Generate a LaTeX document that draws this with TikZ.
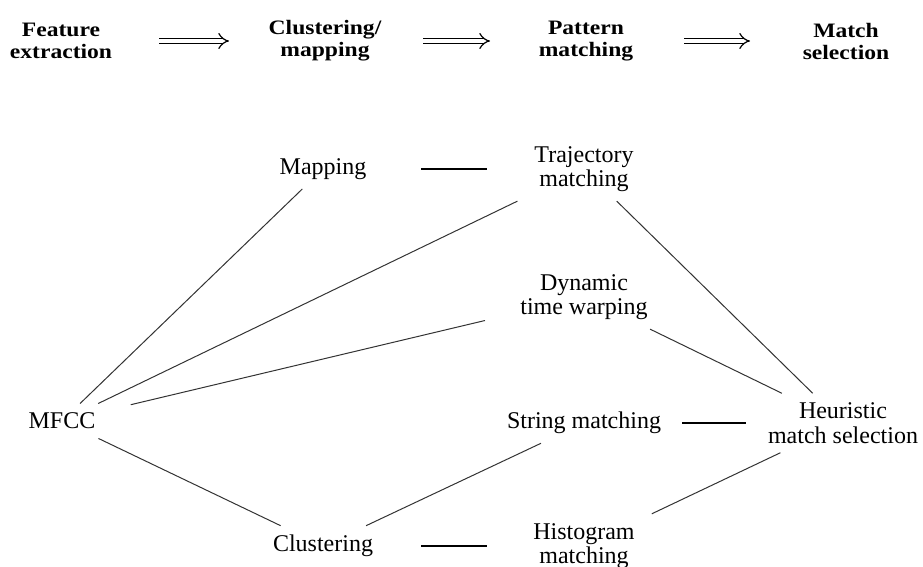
\documentclass[tikz,border=0pt]{standalone}
\usepackage{fontspec}
\setmainfont{Liberation Serif}
\newfontfamily\headfont[FakeStretch=1.15]{Liberation Serif Bold}
\usepackage{tikz}
\usetikzlibrary{positioning}
\usetikzlibrary{arrows.meta}
\tikzset{stage/.style={align=center,inner sep=0pt,
        font=\headfont\fontsize{10.25}{11}\selectfont},
    method/.style={align=center,inner xsep=17.5pt,inner ysep=4.5pt,
        font=\fontsize{12}{12.25}\selectfont},
    flow/.style={double,double distance=2.2pt,line width=0.6pt,-{Implies},
        shorten <=49pt,shorten >=48pt},
    gap/.style={line width=0.8pt,shorten <=49pt,shorten >=48.5pt},
    link/.style={line width=0.5pt,black!80}}

\begin{document}
\begin{tikzpicture}[x=0.5pt,y=-0.5pt]
\useasboundingbox (0,0) rectangle (923,567);
\node[stage] (feat) at (61,41) {Feature\\extraction};
\node[stage] (clmap) at (325,41) {Clustering/\\mapping};
\node[stage] (pmatch) at (586,41) {Pattern\\matching};
\node[stage] (msel) at (846,41) {Match\\selection};
\draw[flow] (feat.center) -- (clmap.center);
\draw[flow] (clmap.center) -- (pmatch.center);
\draw[flow] (pmatch.center) -- (msel.center);

\node[method] (mfcc) at (62,421) {MFCC};
\node[method] (mapping) at (323,169) {Mapping};
\node[method] (clust) at (323,546) {Clustering};
\node[method] (traj) at (584,169) {Trajectory\\matching};
\node[method] (dtw) at (584,297) {Dynamic\\time warping};
\node[method] (string) at (584,423) {String matching};
\node[method] (hist) at (584,546) {Histogram\\matching};
\node[method] (heur) at (843,423) {Heuristic\\match selection};

\draw[gap] (mapping.center) -- (traj.center);
\draw[gap] (string.center) -- (heur.center);
\draw[gap] (clust.center) -- (hist.center);

\draw[link] (mfcc) -- (mapping);
\draw[link] (mfcc) -- (traj);
\draw[link] (mfcc) -- (dtw);
\draw[link] (mfcc) -- (clust);
\draw[link] (clust) -- (string);
\draw[link] (traj) -- (heur);
\draw[link] (dtw) -- (heur);
\draw[link] (hist) -- (heur);
\end{tikzpicture}
\end{document}
